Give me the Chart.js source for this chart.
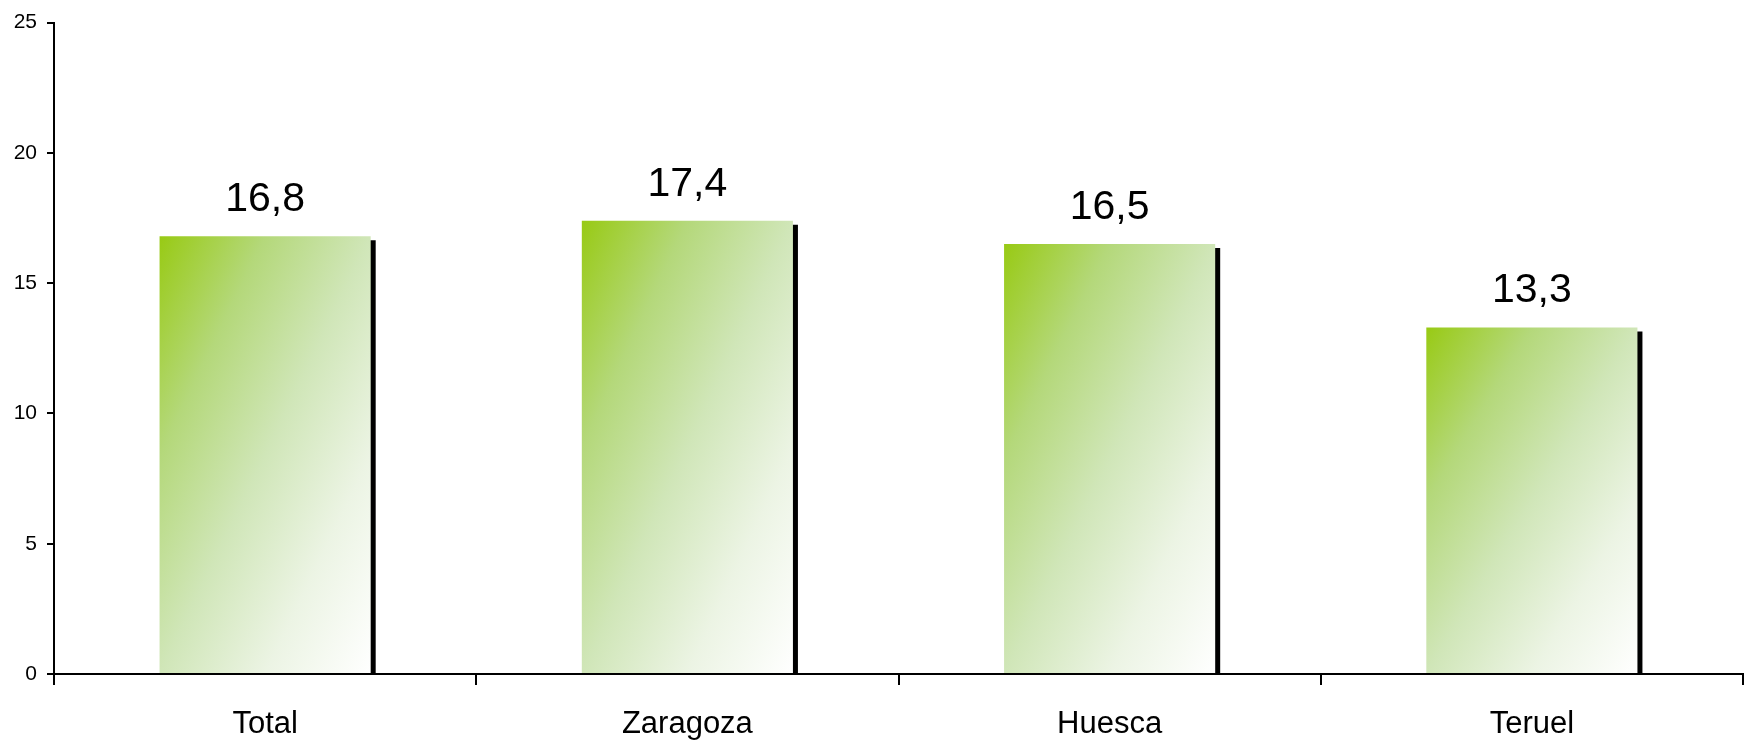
<!DOCTYPE html>
<html>
<head>
<meta charset="utf-8">
<script src="https://cdn.jsdelivr.net/npm/chart.js@4.4.1/dist/chart.umd.min.js"></script>
<style>
    html, body { margin: 0; padding: 0; background: #fff; }
    #wrap { width: 1746px; height: 741px; }
</style>
</head>
<body>
<div id="wrap"><canvas id="barChart" width="1746" height="741"></canvas></div>
<script>
const categories = ["Total", "Zaragoza", "Huesca", "Teruel"];
const values = [16.8, 17.4, 16.5, 13.3];
const yTicks = [0, 5, 10, 15, 20, 25];

const FONT = "'Liberation Sans', Arial, sans-serif";

// Office-style diagonal gradient: green at top-left, white at bottom-right
function barGradient(context) {
    const chart = context.chart;
    if (!chart.chartArea) return "#b8da80";
    const xs = chart.scales.x, ys = chart.scales.y;
    const cx = xs.getPixelForValue(context.dataIndex);
    const w = (xs.width / categories.length) * 0.5;
    const x0 = cx - w / 2;
    const y0 = ys.getPixelForValue(context.raw);
    const h = ys.getPixelForValue(0) - y0;
    const s = 2 * w * h / (w * w + h * h);
    const g = chart.ctx.createLinearGradient(x0, y0, x0 + h * s, y0 + w * s);
    g.addColorStop(0, "#98ca14");
    g.addColorStop(0.25, "#b4d87a");
    g.addColorStop(0.5, "#d0e6b8");
    g.addColorStop(0.75, "#ecf4e4");
    g.addColorStop(1, "#ffffff");
    return g;
}

const barShadow = {
    id: "barShadow",
    beforeDatasetsDraw(chart) {
        const ctx = chart.ctx;
        ctx.save();
        ctx.shadowColor = "#000";
        ctx.shadowOffsetX = 5;
        ctx.shadowOffsetY = 4;
        ctx.shadowBlur = 0;
    },
    afterDatasetsDraw(chart) {
        chart.ctx.restore();
    }
};

const valueLabels = {
    id: "valueLabels",
    afterDatasetsDraw(chart) {
        const ctx = chart.ctx;
        ctx.save();
        ctx.font = "41px " + FONT;
        ctx.fillStyle = "#000";
        ctx.textAlign = "center";
        ctx.textBaseline = "alphabetic";
        chart.getDatasetMeta(0).data.forEach((bar, i) => {
            ctx.fillText(values[i].toFixed(1).replace(".", ","), bar.x, bar.y - 25);
        });
        ctx.restore();
    }
};

document.addEventListener("DOMContentLoaded", function () {
    const barCtx = document.getElementById("barChart").getContext("2d");

    new Chart(barCtx, {
        type: "bar",
        data: {
            labels: categories,
            datasets: [{
                data: values,
                backgroundColor: barGradient,
                borderWidth: 0,
                barPercentage: 0.5,
                categoryPercentage: 1
            }]
        },
        options: {
            responsive: false,
            animation: false,
            layout: { padding: { top: 20, right: 3, left: 0, bottom: 0 } },
            plugins: {
                legend: { display: false },
                tooltip: { enabled: false }
            },
            scales: {
                x: {
                    afterFit: (scale) => { scale.height = 67; },
                    grid: {
                        offset: true,
                        drawOnChartArea: false,
                        tickLength: 11,
                        color: "#000",
                        lineWidth: 2
                    },
                    border: { color: "#000", width: 2 },
                    ticks: {
                        color: "#000",
                        font: { family: FONT, size: 31 },
                        padding: 21
                    }
                },
                y: {
                    min: 0,
                    max: 25,
                    afterFit: (scale) => { scale.width = 54; },
                    afterBuildTicks: (scale) => {
                        scale.ticks = yTicks.map(v => ({ value: v }));
                    },
                    grid: {
                        drawOnChartArea: false,
                        tickLength: 7,
                        color: "#000",
                        lineWidth: 2
                    },
                    border: { color: "#000", width: 2 },
                    ticks: {
                        color: "#000",
                        font: { family: FONT, size: 21 },
                        padding: 10
                    }
                }
            }
        },
        plugins: [barShadow, valueLabels]
    });
});
</script>
</body>
</html>
